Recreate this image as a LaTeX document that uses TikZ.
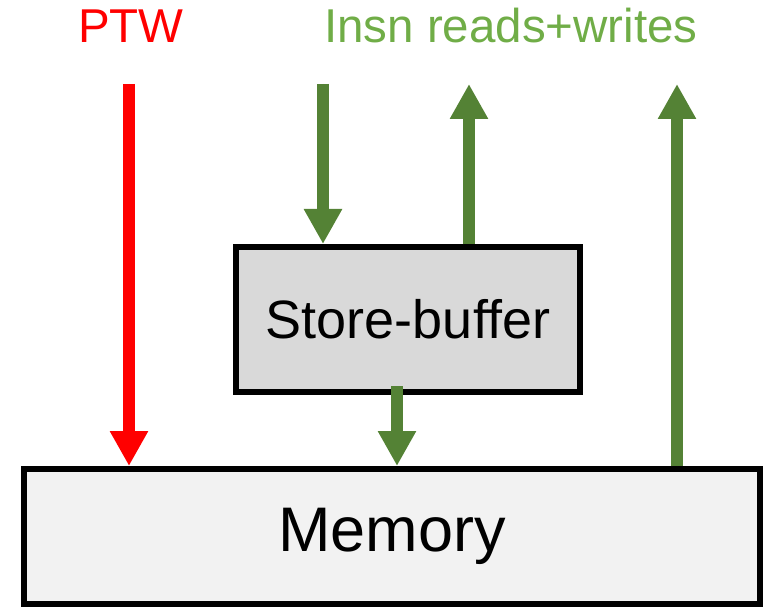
\documentclass[tikz,border=0pt]{standalone}
\usepackage{fontspec}
\setmainfont{Liberation Sans}
\usetikzlibrary{arrows.meta}

\definecolor{ptwred}{HTML}{FF0000}
\definecolor{flowgreen}{HTML}{548235}
\definecolor{labelgreen}{HTML}{70AD47}
\definecolor{memfill}{HTML}{F2F2F2}
\definecolor{sbfill}{HTML}{D9D9D9}

\tikzset{
  blockbox/.style={draw=black, line width=6pt, inner sep=0pt},
  flow/.style={line width=12pt, -{Triangle[width=36pt,length=35pt]}},
  toplabel/.style={anchor=base, inner sep=0pt, font=\fontsize{47.5}{58}\selectfont},
}

\begin{document}
\begin{tikzpicture}[x=1pt, y=-1pt]
  \useasboundingbox (0,0) rectangle (769,607);

  % the two blocks
  \node[blockbox, fill=memfill, minimum width=736pt, minimum height=135pt,
        font=\fontsize{63}{75}\selectfont] (mem) at (392,536.5) {Memory};
  \node[blockbox, fill=sbfill, minimum width=344pt, minimum height=145pt,
        font=\fontsize{54}{64}\selectfont] (sb) at (408,319.5) {Store-buffer};

  % headings
  \node[toplabel, text=ptwred] (ptw) at (131,43) {PTW};
  \node[toplabel, text=labelgreen] (insn) at (511,43) {Insn reads+writes};

  % free ends of the connectors
  \coordinate (ptwtop) at (129,84);
  \coordinate (sbin)   at (323,84);
  \coordinate (sbup)   at (469,84);
  \coordinate (sbout)  at (397,386);
  \coordinate (memup)  at (677,84);

  % connectors
  \draw[flow, draw=ptwred, fill=ptwred] (ptwtop) -- (ptwtop |- mem.north);
  \draw[flow, draw=flowgreen, fill=flowgreen] (sbin) -- (sbin |- sb.north);
  \draw[flow, draw=flowgreen, fill=flowgreen] (sbup |- sb.north) -- (sbup);
  \draw[flow, draw=flowgreen, fill=flowgreen] (sbout) -- (sbout |- mem.north);
  \draw[flow, draw=flowgreen, fill=flowgreen] (memup |- mem.north) -- (memup);
\end{tikzpicture}
\end{document}
